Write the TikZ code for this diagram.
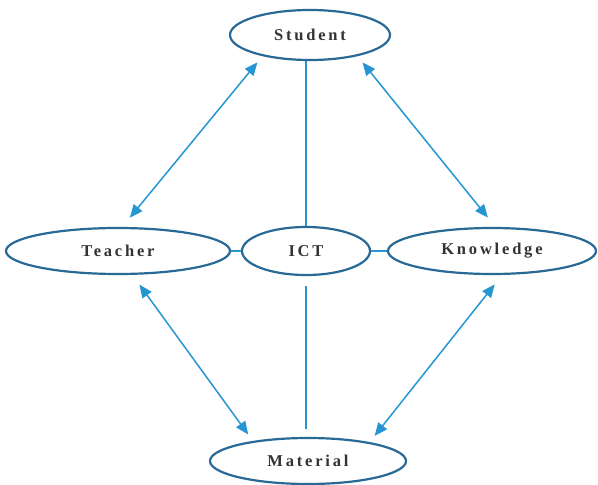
\documentclass[tikz,border=0pt]{standalone}
\usepackage{fontspec}
\setmainfont{Liberation Serif}
\newfontfamily\spacedfont[LetterSpace=17]{Liberation Serif}
\usetikzlibrary{shapes.geometric,arrows.meta}
\definecolor{rimblue}{RGB}{40,105,150}
\definecolor{linkblue}{RGB}{38,150,210}
\tikzset{
  oval/.style={ellipse,draw=rimblue,line width=2.2pt,fill=white,inner sep=0pt,
    font=\spacedfont\bfseries\fontsize{16.5}{19}\selectfont,text=black!80},
  dualarrow/.style={draw=linkblue,line width=1.5pt,
    {Triangle[length=13pt,width=11pt]}-{Triangle[length=13pt,width=11pt]}},
  link/.style={draw=linkblue,line width=1.5pt}
}
\begin{document}
\begin{tikzpicture}[x=1pt,y=-1pt]
\useasboundingbox (0,0) rectangle (598,485);
\node[oval,minimum width=160pt,minimum height=50pt] (student) at (310,35) {Student};
\node[oval,minimum width=224pt,minimum height=46pt] (teacher) at (118,251) {Teacher};
\node[oval,minimum width=128pt,minimum height=48pt] (ict) at (306,251) {ICT};
\node[oval,minimum width=208pt,minimum height=46pt] (knowledge) at (492,251) {Knowledge};
\node[oval,minimum width=196pt,minimum height=46pt] (material) at (308,461) {Material};

% plain links through the centre
\draw[link] (ict.north) -- (ict.north |- student.south);
\draw[link,shorten <=10pt,shorten >=8pt] (ict.south) -- (ict.south |- material.north);
\draw[link] (teacher.east) -- (ict.west);
\draw[link] (ict.east) -- (knowledge.west);

% two-way arrows around the outside
\draw[dualarrow,shorten <=12pt,shorten >=8pt] (teacher.80) -- (student.204);
\draw[dualarrow,shorten <=8pt,shorten >=12pt] (student.336) -- (knowledge.82);
\draw[dualarrow,shorten <=12pt,shorten >=8pt] (teacher.301) -- (material.160.5);
\draw[dualarrow,shorten <=12pt,shorten >=8pt] (knowledge.293) -- (material.17);
\end{tikzpicture}
\end{document}
